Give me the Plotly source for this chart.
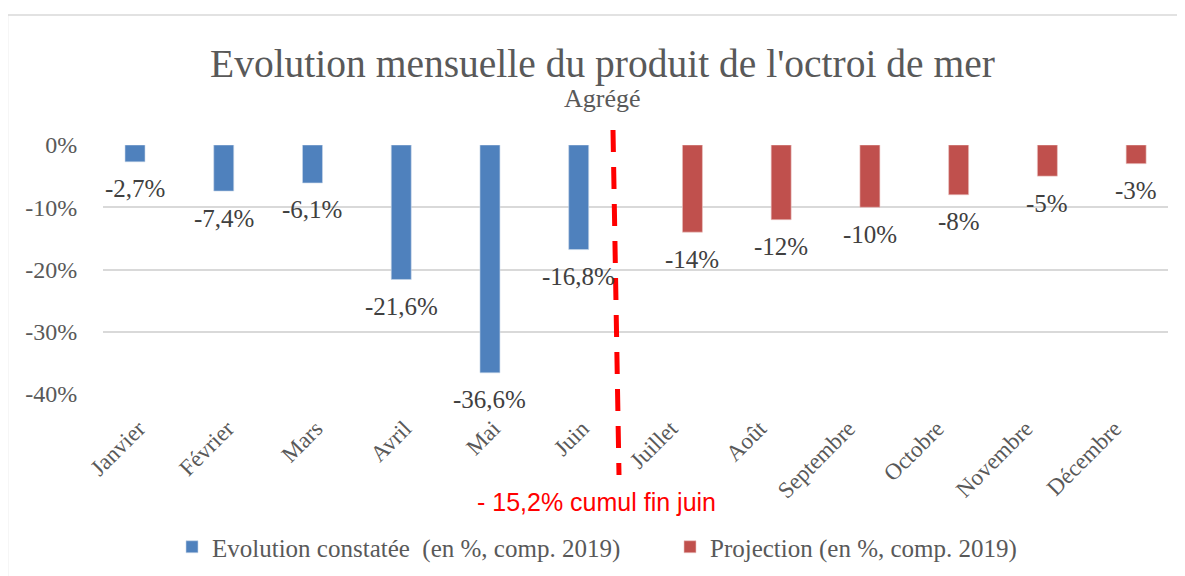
import plotly.graph_objects as go

months = ["Janvier", "Février", "Mars", "Avril", "Mai", "Juin",
          "Juillet", "Août", "Septembre", "Octobre", "Novembre", "Décembre"]
observed = [-2.7, -7.4, -6.1, -21.6, -36.6, -16.8, None, None, None, None, None, None]
projection = [None, None, None, None, None, None, -14, -12, -10, -8, -5, -3]
observed_labels = ["-2,7%", "-7,4%", "-6,1%", "-21,6%", "-36,6%", "-16,8%", None, None, None, None, None, None]
projection_labels = [None, None, None, None, None, None, "-14%", "-12%", "-10%", "-8%", "-5%", "-3%"]
y_ticks = [0, -10, -20, -30, -40]
y_tick_text = ["0%", "-10%", "-20%", "-30%", "-40%"]

SERIF = "Liberation Serif"
BLUE = "#4F81BD"
RED = "#C0504D"

OFF = 8  # page body margin
W, H = 1185 - OFF, 576 - OFF
L, R, T, B = 103 - OFF, 17, 145 - OFF, 182
pw, ph = W - L - R, H - T - B


def px(x):
    return (x - OFF - L) / pw


def py(y):
    return (H - B - (y - OFF)) / ph


fig = go.Figure()
fig.add_trace(go.Bar(
    x=months, y=observed, name="Evolution constatée  (en %, comp. 2019)",
    marker=dict(color=BLUE, line=dict(color="#C9D6EA", width=0.6)),
))
fig.add_trace(go.Bar(
    x=months, y=projection, name="Projection (en %, comp. 2019)",
    marker=dict(color=RED, line=dict(color="#EBC6C5", width=0.6)),
))

label_font = dict(family=SERIF, size=25, color="#404040")
annotations = []
for m, v, t in zip(months, observed, observed_labels):
    if v is not None:
        annotations.append(dict(x=m, y=v, text=t, showarrow=False, xref="x", yref="y",
                                xshift=-12.5, yshift=-27, xanchor="center", yanchor="middle",
                                font=label_font))
for m, v, t in zip(months, projection, projection_labels):
    if v is not None:
        annotations.append(dict(x=m, y=v, text=t, showarrow=False, xref="x", yref="y",
                                xshift=12.5, yshift=-27, xanchor="center", yanchor="middle",
                                font=label_font))

annotations += [
    dict(text="Evolution mensuelle du produit de l'octroi de mer", x=px(602), y=py(64),
         xref="paper", yref="paper", showarrow=False, xanchor="center", yanchor="middle",
         font=dict(family=SERIF, size=39.5, color="#595959")),
    dict(text="Agrégé", x=px(602), y=py(99), xref="paper", yref="paper", showarrow=False,
         xanchor="center", yanchor="middle",
         font=dict(family=SERIF, size=26, color="#595959")),
    dict(text="- 15,2% cumul fin juin", x=px(596), y=py(502), xref="paper", yref="paper",
         showarrow=False, xanchor="center", yanchor="middle",
         font=dict(family="Liberation Sans", size=25, color="#FF0000")),
]

fig.update_layout(
    width=W, height=H,
    margin=dict(l=L, r=R, t=T, b=B, autoexpand=False),
    paper_bgcolor="white", plot_bgcolor="white",
    barmode="group", bargap=0.437, bargroupgap=0.2,
    showlegend=True,
    legend=dict(orientation="h", x=px(172), xanchor="left", y=py(547),
                yanchor="middle", font=dict(family=SERIF, size=25, color="#595959"),
                itemwidth=30, entrywidth=453, entrywidthmode="pixels",
                traceorder="normal", bgcolor="rgba(0,0,0,0)"),
    xaxis=dict(tickangle=-45, tickfont=dict(family=SERIF, size=23, color="#595959"),
               showgrid=False, showline=False, ticks="outside", ticklen=11,
               ticklabelshift=-9,
               tickcolor="rgba(0,0,0,0)", fixedrange=True),
    yaxis=dict(range=[-40, 0], tickvals=y_ticks, ticktext=y_tick_text,
               tickfont=dict(family=SERIF, size=24, color="#595959"),
               showgrid=True, gridcolor="#D9D9D9", gridwidth=1.5, zeroline=False,
               showline=False, ticks="outside", ticklen=20, tickcolor="rgba(0,0,0,0)",
               fixedrange=True),
    annotations=annotations,
    shapes=[
        dict(type="line", xref="paper", yref="paper",
             x0=px(613), x1=px(619), y0=py(130), y1=py(475),
             line=dict(color="#FF0000", width=5, dash="22px,15px")),
        dict(type="rect", xref="paper", yref="paper",
             x0=px(7.5), x1=px(1200), y0=py(600), y1=py(15),
             line=dict(color="#D9D9D9", width=1.5)),
    ],
)

fig.write_html("out.html")
